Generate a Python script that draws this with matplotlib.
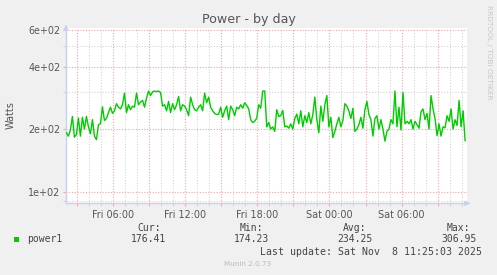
import matplotlib
matplotlib.use('Agg')
import matplotlib.pyplot as plt
import matplotlib.dates as mdates
from matplotlib.ticker import FixedLocator, NullFormatter, FuncFormatter
from matplotlib.patches import Rectangle
from datetime import datetime, timedelta

# ---------------- data ----------------
series_name = "power1"
sample_minutes = 10
first_sample = datetime(2025, 11, 7, 2, 7)
power1 = [
    192, 185, 198, 230, 183, 188, 226, 185, 228, 200,
    230, 205, 190, 222, 185, 178, 210, 212, 256, 220,
    225, 240, 255, 238, 245, 265, 255, 250, 262, 298,
    240, 262, 248, 258, 255, 298, 262, 270, 275, 255,
    282, 305, 290, 302, 305, 303, 305, 300, 258, 262,
    245, 272, 240, 265, 248, 262, 287, 245, 262, 258,
    248, 232, 285, 262, 248, 245, 255, 262, 245, 298,
    268, 285, 255, 245, 238, 235, 236, 255, 228, 245,
    258, 222, 258, 248, 232, 255, 250, 262, 252, 268,
    260, 250, 222, 215, 218, 226, 262, 252, 305, 305,
    205, 215, 200, 205, 195, 248, 230, 232, 246, 205,
    207, 202, 212, 200, 225, 236, 212, 245, 205, 232,
    215, 240, 212, 235, 285, 222, 192, 258, 218, 262,
    290, 205, 228, 182, 195, 212, 228, 205, 220, 265,
    258, 245, 225, 252, 195, 200, 210, 228, 202, 248,
    272, 235, 222, 185, 225, 232, 200, 222, 200, 175,
    195, 200, 222, 212, 305, 205, 255, 198, 300, 212,
    218, 212, 222, 200, 218, 210, 202, 242, 250, 222,
    238, 200, 290, 250, 225, 186, 212, 185, 205, 203,
    232, 218, 250, 200, 222, 208, 275, 205, 245, 176,
]
times = [first_sample + timedelta(minutes=sample_minutes * i) for i in range(len(power1))]

t_end = datetime(2025, 11, 8, 11, 25, 3)
t_start = t_end - timedelta(hours=33, minutes=20)

ytick_values = [100, 200, 400, 600]
ytick_labels = ["1e+02", "2e+02", "4e+02", "6e+02"]
yminor_values = [90, 300, 500]
ylim = (87.9, 615)

stat_headers = ["Cur:", "Min:", "Avg:", "Max:"]
stat_values = ["176.41", "174.23", "234.25", "306.95"]
title = "Power - by day"
ylabel = "Watts"
last_update = "Last update: Sat Nov  8 11:25:03 2025"
footer = "Munin 2.0.73"
side_text = "RRDTOOL / TOBI OETIKER"

# ---------------- layout ----------------
W, H = 497, 275
fig = plt.figure(figsize=(W / 100, H / 100), dpi=100, facecolor='#F0F0F0')
L, R, T, B = 66, 466.7, 27.7, 203.3
ax = fig.add_axes([L / W, 1 - B / H, (R - L) / W, (B - T) / H])
ax.set_facecolor('white')

ax.plot(times, power1, color='#00CC00', lw=1.0, zorder=3)
ax.set_yscale('log')
ax.set_ylim(*ylim)
ax.set_xlim(t_start, t_end)

red = '#F2A6A6'
gray = '#D4D4D4'
axis_col = '#C8D0F4'

# x axis
ax.xaxis.set_major_locator(mdates.HourLocator(byhour=range(0, 24, 3)))
ax.xaxis.set_minor_locator(mdates.HourLocator())

def xfmt(v, pos):
    d = mdates.num2date(v)
    return d.strftime('%a %H:%M') if d.hour % 6 == 0 else ''

ax.xaxis.set_major_formatter(FuncFormatter(xfmt))

# y axis
ax.yaxis.set_major_locator(FixedLocator(ytick_values))
ax.set_yticklabels(ytick_labels)
ax.yaxis.set_minor_locator(FixedLocator(yminor_values))
ax.yaxis.set_minor_formatter(NullFormatter())

ax.grid(which='major', color=red, lw=0.8, linestyle=(0, (1, 1.5)), zorder=1)
ax.grid(which='minor', color=gray, lw=0.8, linestyle=(0, (1, 1.5)), zorder=1)

ax.tick_params(axis='both', which='major', length=2, width=0.8, color=red,
               labelsize=6.9, labelcolor='#555555', pad=2)
ax.tick_params(axis='both', which='minor', length=2, width=0.8, color=gray)
ax.tick_params(axis='x', which='major', pad=3)

for s in ['top', 'right']:
    ax.spines[s].set_visible(False)
for s in ['left', 'bottom']:
    ax.spines[s].set_color(axis_col)
    ax.spines[s].set_linewidth(1.0)

# axis arrows
ax.annotate('', xy=(1.016, 0), xytext=(0.995, 0), xycoords='axes fraction',
            arrowprops=dict(arrowstyle='-|>', color=axis_col, lw=1.0, mutation_scale=7),
            annotation_clip=False)
ax.annotate('', xy=(0, 1.033), xytext=(0, 0.99), xycoords='axes fraction',
            arrowprops=dict(arrowstyle='-|>', color=axis_col, lw=1.0, mutation_scale=7),
            annotation_clip=False)

def fx(x):
    return x / W

def fy(y):
    return 1 - y / H

fig.text(fx(249), fy(20), title, ha='center', va='center', fontsize=9.1, color='#555555')
fig.text(fx(11), fy(115.5), ylabel, ha='center', va='center', rotation=90,
         fontsize=7, color='#555555')
fig.text(fx(488.5), fy(5), side_text, ha='center', va='top', rotation=270,
         fontsize=5.3, color='#C8C8C8')

mono = 'DejaVu Sans Mono'
txtc = '#444444'
fig.add_artist(Rectangle((fx(14), fy(242.3)), 5.3 / W, 5.3 / H,
                         transform=fig.transFigure, facecolor='#00CC00', edgecolor='none'))
fig.text(fx(27), fy(239.5), series_name, ha='left', va='center', fontsize=7, family=mono, color=txtc)

head_x = [137, 240, 343, 447]
val_x = [131, 234, 337, 441]
for hx, h in zip(head_x, stat_headers):
    fig.text(fx(hx), fy(227.7), h, ha='left', va='center', fontsize=7, family=mono, color=txtc)
for vx, v in zip(val_x, stat_values):
    fig.text(fx(vx), fy(239.5), v, ha='left', va='center', fontsize=7, family=mono, color=txtc)

fig.text(fx(482.5), fy(251.7), last_update, ha='right', va='center', fontsize=7.1,
         family=mono, color=txtc)
fig.text(fx(248), fy(264), footer, ha='center', va='center', fontsize=5.2, color='#BBBBBB')

fig.savefig('out.png', dpi=100, facecolor=fig.get_facecolor())
